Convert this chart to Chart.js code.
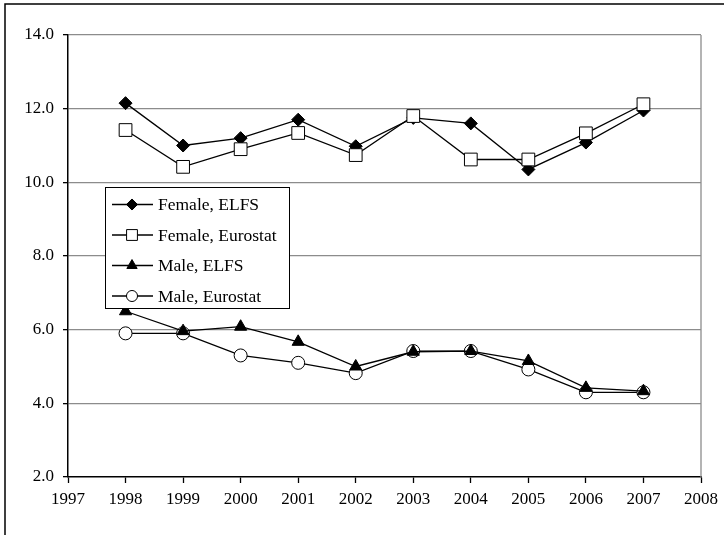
<!DOCTYPE html>
<html>
<head>
<meta charset="utf-8">
<script src="https://cdn.jsdelivr.net/npm/chart.js@4/dist/chart.umd.min.js"></script>
<style>
  html, body { margin: 0; padding: 0; background: #fff; }
  #wrap { position: relative; width: 724px; height: 535px; }
</style>
</head>
<body>
<div id="wrap"><canvas id="rateChart" width="724" height="535"></canvas></div>
<script>
  // data
  const years = [1998, 1999, 2000, 2001, 2002, 2003, 2004, 2005, 2006, 2007];
  const femaleElfs = [12.15, 11.0, 11.2, 11.7, 10.98, 11.75, 11.6, 10.35, 11.08, 11.95];
  const femaleEurostat = [11.42, 10.42, 10.9, 11.34, 10.74, 11.8, 10.62, 10.62, 11.33, 12.12];
  const maleElfs = [6.5, 5.96, 6.08, 5.67, 5.0, 5.4, 5.42, 5.15, 4.42, 4.33];
  const maleEurostat = [5.9, 5.9, 5.3, 5.1, 4.82, 5.42, 5.42, 4.92, 4.3, 4.3];
  const seriesLabels = ['Female, ELFS', 'Female, Eurostat', 'Male, ELFS', 'Male, Eurostat'];
  const xMin = 1997, xMax = 2008;
  const yMin = 2, yMax = 14, yStep = 2;

  const FONT = "'Liberation Serif', 'Times New Roman', serif";

  function toPoints(values) {
    return values.map((v, i) => ({ x: years[i], y: v }));
  }

  // black frame on top and left of the picture
  const framePlugin = {
    id: 'frame',
    beforeDraw(chart) {
      const c = chart.ctx;
      c.save();
      c.fillStyle = '#fff';
      c.fillRect(0, 0, chart.width, chart.height);
      c.strokeStyle = '#000';
      c.lineWidth = 1.5;
      c.beginPath();
      c.moveTo(5, chart.height);
      c.lineTo(5, 4);
      c.lineTo(chart.width, 4);
      c.stroke();
      c.restore();
    }
  };

  // legend box inside the plot, line + marker like the original
  const boxLegend = {
    id: 'boxLegend',
    afterDraw(chart) {
      const c = chart.ctx;
      const left = 105, top = 187, w = 184, h = 121;
      c.save();
      c.fillStyle = '#fff';
      c.fillRect(left, top, w, h);
      c.strokeStyle = '#000';
      c.lineWidth = 1;
      c.strokeRect(left + 0.5, top + 0.5, w, h);
      c.font = '17.5px ' + FONT;
      c.textBaseline = 'middle';
      chart.data.datasets.forEach((ds, i) => {
        const y = top + 17.5 + i * 30.5;
        c.strokeStyle = '#000';
        c.lineWidth = 1.3;
        c.beginPath();
        c.moveTo(left + 7, y);
        c.lineTo(left + 48, y);
        c.stroke();
        c.fillStyle = ds.pointBackgroundColor;
        c.strokeStyle = ds.pointBorderColor;
        c.lineWidth = 1;
        Chart.helpers.drawPoint(c, {
          pointStyle: ds.pointStyle,
          radius: ds.pointRadius * 0.85,
          borderWidth: 1,
          rotation: 0
        }, left + 27, y);
        c.fillStyle = '#000';
        c.fillText(ds.label, left + 53, y + 1);
      });
      c.restore();
    }
  };

  // right edge of plot area in grey
  const plotEdge = {
    id: 'plotEdge',
    beforeDatasetsDraw(chart) {
      const a = chart.chartArea, c = chart.ctx;
      c.save();
      c.strokeStyle = '#8c8c8c';
      c.lineWidth = 1.3;
      c.beginPath();
      c.moveTo(a.right, a.top);
      c.lineTo(a.right, a.bottom);
      c.stroke();
      c.restore();
    }
  };

  const common = { borderColor: '#000', borderWidth: 1.3, pointBorderWidth: 1, pointBorderColor: '#000', tension: 0, fill: false };

  new Chart(document.getElementById('rateChart').getContext('2d'), {
    type: 'line',
    data: {
      datasets: [
        Object.assign({}, common, { label: seriesLabels[0], data: toPoints(femaleElfs), pointStyle: 'rectRot', pointRadius: 6.5, pointBackgroundColor: '#000', order: 4 }),
        Object.assign({}, common, { label: seriesLabels[1], data: toPoints(femaleEurostat), pointStyle: 'rect', pointRadius: 9, pointBackgroundColor: '#fff', order: 3 }),
        Object.assign({}, common, { label: seriesLabels[2], data: toPoints(maleElfs), pointStyle: 'triangle', pointRadius: 7, pointBackgroundColor: '#000', order: 1 }),
        Object.assign({}, common, { label: seriesLabels[3], data: toPoints(maleEurostat), pointStyle: 'circle', pointRadius: 6.5, pointBackgroundColor: '#fff', order: 2 })
      ]
    },
    options: {
      responsive: false,
      animation: false,
      events: [],
      layout: { padding: { left: 0, top: 35, right: 22, bottom: 0 } },
      plugins: {
        legend: { display: false },
        tooltip: { enabled: false }
      },
      scales: {
        x: {
          type: 'linear',
          min: xMin,
          max: xMax,
          afterFit: s => { s.height = 58; },
          ticks: { stepSize: 1, padding: 6, color: '#000', font: { family: FONT, size: 17 }, callback: v => String(v) },
          grid: {
            color: c => 'rgba(0,0,0,0)',
            tickColor: '#000',
            tickLength: 6,
            tickWidth: 1.3
          },
          border: { color: '#000', width: 1.5 }
        },
        y: {
          min: yMin,
          max: yMax,
          afterFit: s => { s.width = 68; },
          ticks: { stepSize: yStep, padding: 9, color: '#000', font: { family: FONT, size: 17 }, callback: v => v.toFixed(1) },
          grid: {
            color: c => c.tick && c.tick.value === yMin ? 'rgba(0,0,0,0)' : '#8c8c8c',
            lineWidth: 1.3,
            tickColor: '#000',
            tickLength: 5,
            tickWidth: 1.3
          },
          border: { color: '#000', width: 1.5 }
        }
      }
    },
    plugins: [framePlugin, plotEdge, boxLegend]
  });
</script>
</body>
</html>
